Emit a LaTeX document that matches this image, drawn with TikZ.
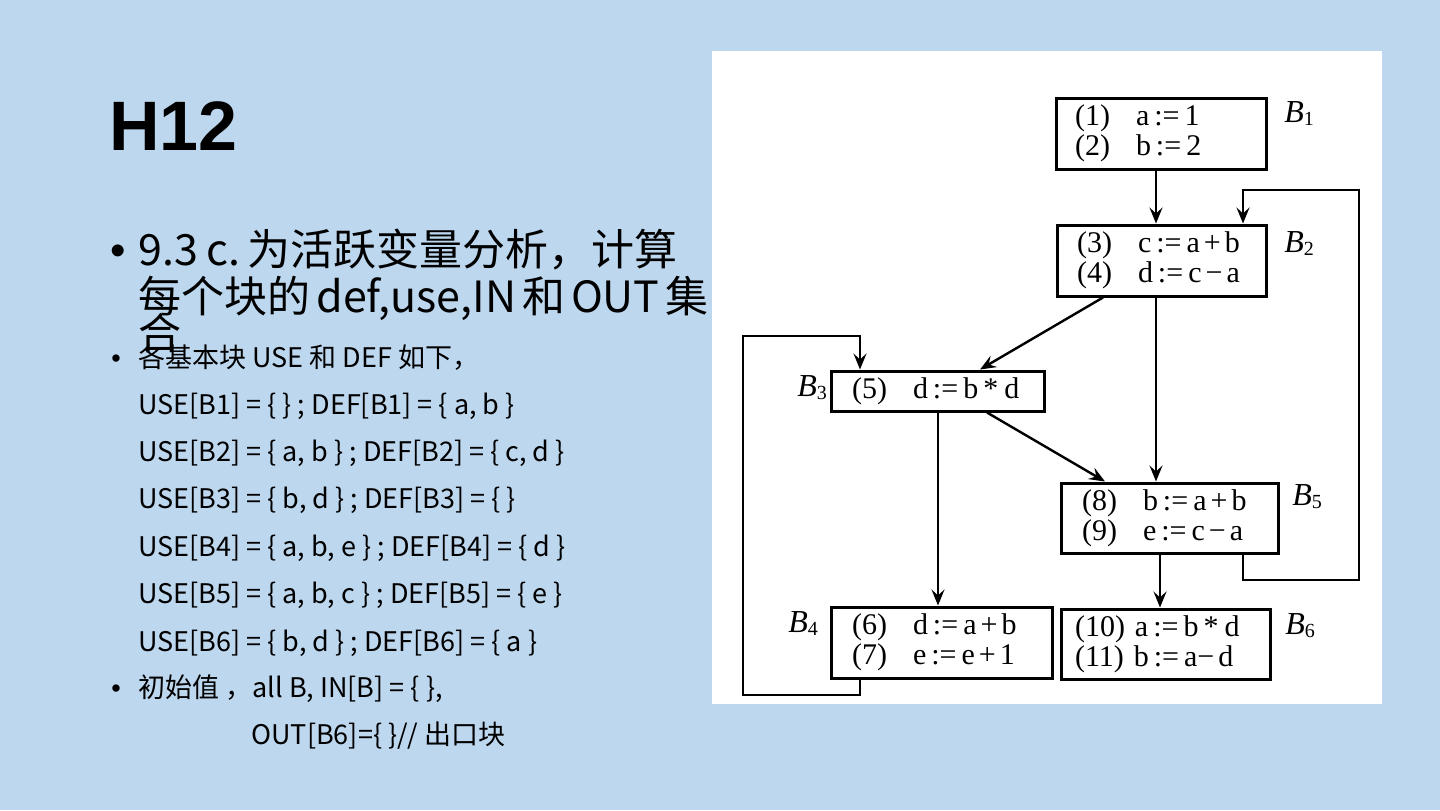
\documentclass[tikz,border=0pt]{standalone}
\usepackage{fontspec}
\setmainfont{Liberation Serif}
\newfontfamily\sansf{Liberation Sans}
\newfontfamily\cjk{Noto Sans CJK SC}
\usetikzlibrary{arrows.meta}
\definecolor{bgblue}{RGB}{189,215,238}
\newcommand{\nb}[1]{\makebox[30.5pt][l]{#1}}
\newcommand{\asg}{\,:=\,}
\newcommand{\op}[1]{\hspace{2pt}#1\hspace{2pt}}
\newcommand{\bsp}{\hspace{4pt}}
\newcommand{\nsp}{\hspace{3pt}}
\newcommand{\blab}[1]{{\fontsize{16}{16}\selectfont\itshape B}\raisebox{-0.25ex}{\fontsize{10}{10}\selectfont #1}}
\begin{document}
\begin{tikzpicture}[x=0.5pt,y=-0.5pt,
  blk/.style={draw=black, line width=1.5pt, fill=white, inner ysep=0pt,
    font=\fontsize{15}{15}\selectfont, align=left, anchor=center},
  flow/.style={line width=1.2pt, -{Stealth[length=8pt,width=6.5pt,inset=3pt]}},
  lbl/.style={font=\fontsize{15}{15}\selectfont, anchor=base west, inner sep=0pt},
  big/.style={font=\cjk\fontsize{21.5}{21.5}\selectfont, anchor=base west, inner sep=0pt},
  small/.style={font=\cjk\fontsize{13.5}{13.5}\selectfont, anchor=base west, inner sep=0pt},
  ttl/.style={font=\sansf\bfseries\fontsize{35}{35}\selectfont, anchor=base west, inner sep=0pt}]
\useasboundingbox (0,0) rectangle (1440,810);
\fill[bgblue] (0,0) rectangle (1440,810);
\fill[white] (712,51) rectangle (1382,704);

% left text
\node[ttl] (title) at (109,150) {H12};
\node[big, font=\sansf\fontsize{22}{22}\selectfont] (bul1) at (110,265) {•};
\node[big] (t1) at (138,265) {9.3\bsp c.\bsp 为活跃变量分析，计算};
\node[big] (t2) at (138,312) {每个块的\nsp def,use,IN\nsp 和\nsp OUT\nsp 集};
\node[big] (t3) at (138,349) {合};
\node[small, font=\sansf\fontsize{13.5}{13.5}\selectfont] (bul2) at (111,367) {•};
\node[small] (s0) at (138,367) {各基本块 USE 和 DEF 如下，};
\node[small] (s1) at (138,414) {USE[B1] = \{ \} ; DEF[B1] = \{ a, b \}};
\node[small] (s2) at (138,461) {USE[B2] = \{ a, b \} ; DEF[B2] = \{ c, d \}};
\node[small] (s3) at (138,508) {USE[B3] = \{ b, d \} ; DEF[B3] = \{ \}};
\node[small] (s4) at (138,556) {USE[B4] = \{ a, b, e \} ; DEF[B4] = \{ d \}};
\node[small] (s5) at (138,603) {USE[B5] = \{ a, b, c \} ; DEF[B5] = \{ e \}};
\node[small] (s6) at (138,651) {USE[B6] = \{ b, d \} ; DEF[B6] = \{ a \}};
\node[small, font=\sansf\fontsize{13.5}{13.5}\selectfont] (bul3) at (111,697) {•};
\node[small] (s7) at (138,697) {初始值 ，all B, IN[B] = \{ \},};
\node[small] (s8) at (251,744) {OUT[B6]=\{ \}// 出口块};

% blocks
\node[blk, minimum width=105pt, minimum height=35.5pt, inner xsep=9.5pt, text width=86pt] (B1) at (1161,133.5)
  {\mbox{\nb{(1)}a\asg 1}\\\mbox{\nb{(2)}b\asg 2}};
\node[blk, minimum width=104.5pt, minimum height=35.5pt, inner xsep=10pt, text width=84.5pt] (B2) at (1161.5,260.5)
  {\mbox{\nb{(3)}c\asg a\op{+}b}\\\mbox{\nb{(4)}d\asg c\op{−}a}};
\node[blk, minimum width=106.5pt, minimum height=20pt, inner xsep=10.5pt, text width=85.5pt] (B3) at (937.5,391)
  {\mbox{\nb{(5)}d\asg b\,*\hspace{3pt}d}};
\node[blk, minimum width=108.5pt, minimum height=35pt, inner xsep=10.5pt, text width=87.5pt] (B5) at (1169.5,518)
  {\mbox{\nb{(8)}b\asg a\op{+}b}\\\mbox{\nb{(9)}e\asg c\op{−}a}};
\node[blk, minimum width=110.5pt, minimum height=35.5pt, inner xsep=10.5pt, text width=89.5pt] (B4) at (941.5,642.5)
  {\mbox{\nb{(6)}d\asg a\op{+}b}\\\mbox{\nb{(7)}e\asg e\op{+}1}};
\node[blk, minimum width=104.5pt, minimum height=35pt, inner xsep=7pt, text width=90.5pt] (B6) at (1165.5,644)
  {\mbox{(10) a\asg b\,*\hspace{3pt}d}\\\mbox{(11) b\,:=\,a−\hspace{2pt}d}};

% labels
\node[lbl] (L1) at (1284,122) {\blab{1}};
\node[lbl] (L2) at (1284,252) {\blab{2}};
\node[lbl] (L3) at (797,396) {\blab{3}};
\node[lbl] (L5) at (1292,505) {\blab{5}};
\node[lbl] (L4) at (788,632) {\blab{4}};
\node[lbl] (L6) at (1285,634) {\blab{6}};

% edges
\draw[flow] ([xshift=-2.5pt]B1.south) -- ([xshift=-2.75pt]B2.north);
\draw[flow] ([xshift=-29.25pt]B2.south) -- ([xshift=21.25pt]B3.north);
\draw[flow] ([xshift=-2.75pt]B2.south) -- ([xshift=-6.75pt]B5.north);
\draw[flow] ([xshift=0.25pt]B3.south) -- ([xshift=-1.75pt]B4.north);
\draw[flow] ([xshift=24.75pt]B3.south) -- ([xshift=-32.25pt]B5.north);
\draw[flow] ([xshift=-4.75pt]B5.south) -- ([xshift=-2.75pt]B6.north);
\coordinate (r1) at (1359,580);
\coordinate (r2) at (1359,190);
\draw[flow] ([xshift=36.75pt]B5.south) |- (r1) -- (r2) -| ([xshift=40.75pt]B2.north);
\coordinate (l1) at (743,695);
\coordinate (l2) at (743,336);
\draw[flow] ([xshift=-40.75pt]B4.south) |- (l1) -- (l2) -| ([xshift=-38.75pt]B3.north);
\end{tikzpicture}
\end{document}
